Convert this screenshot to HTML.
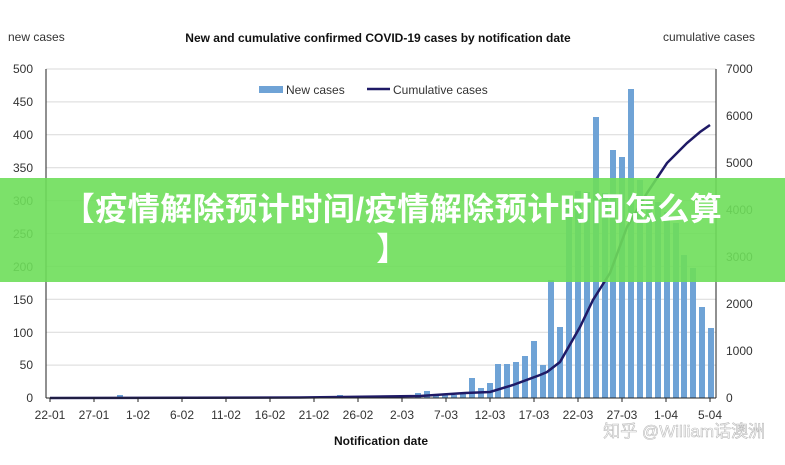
<!DOCTYPE html>
<html><head><meta charset="utf-8"><style>
body{margin:0;background:#fff;width:785px;height:460px;overflow:hidden;position:relative;font-family:"Liberation Sans","Noto Sans CJK SC",sans-serif}
.banner{position:absolute;left:0;top:178px;width:785px;height:104px;background:rgba(110,222,90,0.9);color:#fff;font-weight:bold;font-size:32px;text-align:center;line-height:40px;padding-top:11px;box-sizing:border-box;font-family:"Liberation Sans","Noto Sans CJK SC",sans-serif;letter-spacing:0.5px;white-space:nowrap}
</style></head><body>
<svg width="785" height="460" xmlns="http://www.w3.org/2000/svg" font-family="Liberation Sans, sans-serif" font-size="12" fill="#333">
<text x="8" y="41" font-size="12">new cases</text>
<text x="378" y="42" font-size="12" font-weight="bold" text-anchor="middle" fill="#111">New and cumulative confirmed COVID-19 cases by notification date</text>
<text x="755" y="41" font-size="12" text-anchor="end">cumulative cases</text>
<g stroke="#d9d9d9" stroke-width="1">
<line x1="46" x2="716" y1="69" y2="69"/><line x1="46" x2="716" y1="101.9" y2="101.9"/><line x1="46" x2="716" y1="134.8" y2="134.8"/><line x1="46" x2="716" y1="167.7" y2="167.7"/><line x1="46" x2="716" y1="200.6" y2="200.6"/><line x1="46" x2="716" y1="233.5" y2="233.5"/><line x1="46" x2="716" y1="266.4" y2="266.4"/><line x1="46" x2="716" y1="299.3" y2="299.3"/><line x1="46" x2="716" y1="332.2" y2="332.2"/><line x1="46" x2="716" y1="365.1" y2="365.1"/>
</g>
<g text-anchor="end">
<text x="33" y="73">500</text><text x="33" y="106">450</text><text x="33" y="139">400</text><text x="33" y="172">350</text><text x="33" y="205">300</text><text x="33" y="238">250</text><text x="33" y="271">200</text><text x="33" y="304">150</text><text x="33" y="337">100</text><text x="33" y="369">50</text><text x="33" y="402">0</text>
</g>
<g text-anchor="start">
<text x="726" y="73">7000</text><text x="726" y="120">6000</text><text x="726" y="167">5000</text><text x="726" y="214">4000</text><text x="726" y="261">3000</text><text x="726" y="308">2000</text><text x="726" y="355">1000</text><text x="726" y="402">0</text>
</g>
<g fill="#6fa3d6">
<rect x="117" y="395" width="6" height="3"/><rect x="337" y="395" width="6" height="3"/>
<rect x="415" y="393" width="6" height="5"/><rect x="424" y="391" width="6" height="7"/>
<rect x="433" y="395" width="6" height="3"/><rect x="442" y="395" width="6" height="3"/><rect x="451" y="395" width="6" height="3"/><rect x="460" y="394" width="6" height="4"/>
<rect x="469" y="378" width="6" height="20"/><rect x="478" y="388" width="6" height="10"/><rect x="487" y="383" width="6" height="15"/>
<rect x="495" y="364" width="6" height="34"/><rect x="504" y="364" width="6" height="34"/><rect x="513" y="362" width="6" height="36"/><rect x="522" y="356" width="6" height="42"/><rect x="531" y="341" width="6" height="57"/><rect x="540" y="365" width="6" height="33"/><rect x="548" y="280" width="6" height="118"/><rect x="557" y="327" width="6" height="71"/><rect x="566" y="196" width="6" height="202"/><rect x="575" y="191" width="6" height="207"/><rect x="584" y="192" width="6" height="206"/><rect x="593" y="117" width="6" height="281"/><rect x="602" y="193" width="6" height="205"/><rect x="610" y="150" width="6" height="248"/><rect x="619" y="157" width="6" height="241"/><rect x="628" y="89" width="6" height="309"/><rect x="637" y="180" width="6" height="218"/><rect x="646" y="200" width="6" height="198"/><rect x="655" y="202" width="6" height="196"/><rect x="664" y="212" width="6" height="186"/><rect x="673" y="223" width="6" height="175"/><rect x="681" y="255" width="6" height="143"/><rect x="690" y="268" width="6" height="130"/><rect x="699" y="307" width="6" height="91"/><rect x="708" y="328" width="6" height="70"/>
</g>
<polyline fill="none" stroke="#1f1a66" stroke-width="2.5" points="50,398 300,397.5 420,396 465,393 490,392 513,385 540,375 547,372 560,362 580,327 593,300 610,273 627,227 647,193 667,163 687,143 700,132 710,125"/>
<line x1="46" x2="46" y1="69" y2="398" stroke="#222"/>
<line x1="716" x2="716" y1="69" y2="398" stroke="#222"/>
<line x1="46" x2="716" y1="398" y2="398" stroke="#222"/>
<g stroke="#222">
<line x1="50" x2="50" y1="398" y2="402"/><line x1="94" x2="94" y1="398" y2="402"/><line x1="138" x2="138" y1="398" y2="402"/><line x1="182" x2="182" y1="398" y2="402"/><line x1="226" x2="226" y1="398" y2="402"/><line x1="270" x2="270" y1="398" y2="402"/><line x1="314" x2="314" y1="398" y2="402"/><line x1="358" x2="358" y1="398" y2="402"/><line x1="402" x2="402" y1="398" y2="402"/><line x1="446" x2="446" y1="398" y2="402"/><line x1="490" x2="490" y1="398" y2="402"/><line x1="534" x2="534" y1="398" y2="402"/><line x1="578" x2="578" y1="398" y2="402"/><line x1="622" x2="622" y1="398" y2="402"/><line x1="666" x2="666" y1="398" y2="402"/><line x1="710" x2="710" y1="398" y2="402"/>
</g>
<g text-anchor="middle">
<text x="50" y="419">22-01</text><text x="94" y="419">27-01</text><text x="138" y="419">1-02</text><text x="182" y="419">6-02</text><text x="226" y="419">11-02</text><text x="270" y="419">16-02</text><text x="314" y="419">21-02</text><text x="358" y="419">26-02</text><text x="402" y="419">2-03</text><text x="446" y="419">7-03</text><text x="490" y="419">12-03</text><text x="534" y="419">17-03</text><text x="578" y="419">22-03</text><text x="622" y="419">27-03</text><text x="666" y="419">1-04</text><text x="710" y="419">5-04</text>
</g>
<text x="381" y="445" text-anchor="middle" font-weight="bold" fill="#111">Notification date</text>
<rect x="259" y="86" width="24" height="7" fill="#6fa3d6"/>
<text x="286" y="94">New cases</text>
<line x1="367" x2="390" y1="89" y2="89" stroke="#1f1a66" stroke-width="2.5"/>
<text x="393" y="94">Cumulative cases</text>
<text x="765" y="437" text-anchor="end" font-size="17" fill="#ffffff" stroke="#bbb" stroke-width="0.6" font-family="Liberation Sans, Noto Sans CJK SC, sans-serif">知乎 @William话澳洲</text>
</svg>
<div class="banner">【疫情解除预计时间/疫情解除预计时间怎么算<br>】</div>
</body></html>
